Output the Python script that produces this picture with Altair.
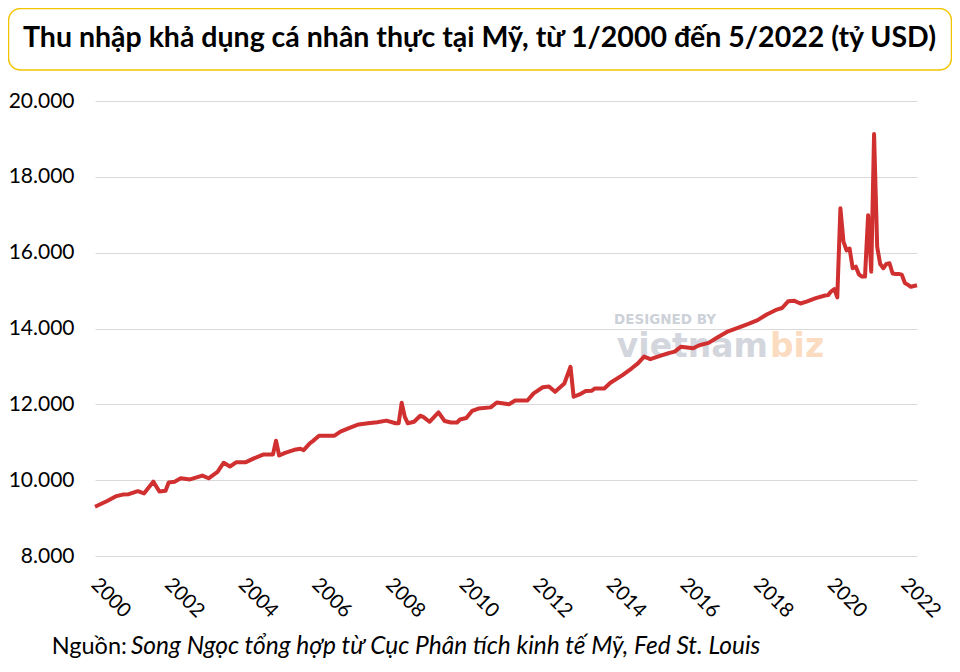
import altair as alt
import pandas as pd

# ---- data (billion USD) ----
months = [
    "2000-01", "2000-05", "2000-08", "2000-10", "2000-12", "2001-03", "2001-05", "2001-08",
    "2001-10", "2001-12", "2002-01", "2002-03", "2002-05", "2002-08", "2002-12", "2003-02",
    "2003-05", "2003-07", "2003-09", "2003-11", "2004-02", "2004-05", "2004-08", "2004-11",
    "2004-12", "2005-01", "2005-03", "2005-06", "2005-08", "2005-09", "2005-11", "2005-12",
    "2006-02", "2006-07", "2006-09", "2006-12", "2007-03", "2007-06", "2007-09", "2007-12",
    "2008-03", "2008-04", "2008-05", "2008-06", "2008-07", "2008-09", "2008-11", "2008-12",
    "2009-02", "2009-05", "2009-07", "2009-09", "2009-11", "2009-12", "2010-02", "2010-04",
    "2010-06", "2010-10", "2010-12", "2011-04", "2011-06", "2011-10", "2011-12", "2012-03",
    "2012-05", "2012-07", "2012-10", "2012-12", "2013-01", "2013-03", "2013-05", "2013-07",
    "2013-08", "2013-11", "2014-01", "2014-05", "2014-08", "2014-10", "2014-12", "2015-02",
    "2015-05", "2015-08", "2015-10", "2015-12", "2016-04", "2016-06", "2016-09", "2016-12",
    "2017-03", "2017-07", "2017-10", "2018-01", "2018-04", "2018-07", "2018-09", "2018-11",
    "2019-01", "2019-03", "2019-05", "2019-08", "2019-11", "2019-12", "2020-01", "2020-02",
    "2020-03", "2020-04", "2020-05", "2020-06", "2020-07", "2020-08", "2020-09", "2020-10",
    "2020-11", "2020-12", "2021-01", "2021-02", "2021-03", "2021-04", "2021-05", "2021-06",
    "2021-07", "2021-08", "2021-09", "2021-10", "2021-11", "2021-12", "2022-01", "2022-02",
    "2022-03", "2022-04", "2022-05",
]
income = [
    9300, 9450, 9580, 9620, 9630, 9710, 9650, 9960,
    9700, 9720, 9940, 9960, 10050, 10020, 10120, 10050,
    10220, 10460, 10360, 10470, 10470, 10580, 10680, 10680,
    11040, 10650, 10720, 10800, 10830, 10790, 10970, 11030,
    11170, 11170, 11280, 11380, 11470, 11500, 11530, 11570,
    11500, 11500, 12040, 11670, 11500, 11540, 11700, 11670,
    11540, 11790, 11560, 11520, 11520, 11600, 11640, 11830,
    11890, 11920, 12050, 12000, 12100, 12100, 12290, 12450,
    12470, 12330, 12550, 12990, 12200, 12260, 12350, 12360,
    12420, 12420, 12570, 12770, 12950, 13080, 13260, 13190,
    13270, 13350, 13390, 13520, 13480, 13560, 13620, 13770,
    13910, 14030, 14120, 14220, 14370, 14490, 14540, 14720,
    14730, 14660, 14710, 14800, 14870, 14880, 14980, 15040,
    14820, 17170, 16300, 16060, 16110, 15590, 15630, 15430,
    15370, 15370, 16990, 15500, 19130, 16150, 15700, 15590,
    15700, 15720, 15450, 15440, 15440, 15420, 15200, 15150,
    15100, 15120, 15140,
]
y_ticks = [8000, 10000, 12000, 14000, 16000, 18000, 20000]

TITLE = "Thu nhập khả dụng cá nhân thực tại Mỹ, từ 1/2000 đến 5/2022 (tỷ USD)"
SOURCE_LABEL = "Nguồn:"
SOURCE_TEXT = "Song Ngọc tổng hợp từ Cục Phân tích kinh tế Mỹ, Fed St. Louis"

df = pd.DataFrame({"date": [m + "-01T00:00:00" for m in months], "value": income})

W, H = 822, 455

line = alt.Chart(df).mark_line(color="#d03030", strokeWidth=4, strokeJoin="round").encode(
    x=alt.X(
        "date:T",
        scale=alt.Scale(domain=[alt.DateTime(year=2000, month=1, date=1),
                                alt.DateTime(year=2022, month=5, date=1)]),
        axis=alt.Axis(
            title=None, format="%Y", tickCount={"interval": "year", "step": 2},
            grid=False, domain=False, ticks=False, labelAngle=45, labelAlign="left",
            labelBaseline="top", labelPadding=18, labelOffset=6, labelFontSize=20,
            labelFlush=False, labelOverlap=False, labelBound=False,
        ),
    ),
    y=alt.Y(
        "value:Q",
        scale=alt.Scale(domain=[8000, 20000], nice=False, zero=False),
        axis=alt.Axis(
            title=None, values=y_ticks, grid=True, gridColor="#d9d9d9", gridWidth=1,
            domain=False, ticks=False, labelFontSize=21, labelPadding=21,
            labelExpr="replace(format(datum.value, ','), ',', '.')",
        ),
    ),
)

one = pd.DataFrame({"t": [TITLE]})

box = alt.Chart(one).mark_rect(
    cornerRadius=12, fill="white", stroke="#f5c400", strokeWidth=1.5
).encode(x=alt.value(-86.5), x2=alt.value(856.5), y=alt.value(-92.5), y2=alt.value(-31))

title = alt.Chart(one).mark_text(
    font="Lato", fontWeight="bold", fontSize=28.5, align="center", baseline="alphabetic", color="black"
).encode(x=alt.value(384.5), y=alt.value(-54.5), text="t:N")

src1 = alt.Chart(pd.DataFrame({"t": [SOURCE_LABEL]})).mark_text(
    font="Lato", fontSize=23.5, align="left", baseline="alphabetic", color="black"
).encode(x=alt.value(-43.3), y=alt.value(553.3), text="t:N")

src2 = alt.Chart(pd.DataFrame({"t": [SOURCE_TEXT]})).mark_text(
    font="Lato", fontSize=24.5, fontStyle="italic", align="left", baseline="alphabetic", color="black"
).encode(x=alt.value(36), y=alt.value(553.3), text="t:N")

wm1 = alt.Chart(pd.DataFrame({"t": ["DESIGNED BY"]})).mark_text(
    font="DejaVu Sans", fontWeight="bold", fontSize=13.5, align="left", baseline="alphabetic",
    color="#cdd1d8"
).encode(x=alt.value(519), y=alt.value(223), text="t:N")

wm2 = alt.Chart(pd.DataFrame({"t": ["vietnam"]})).mark_text(
    font="DejaVu Sans", fontWeight="bold", fontSize=33, align="right", baseline="alphabetic",
    color="#d3d6dd"
).encode(x=alt.value(673), y=alt.value(256), text="t:N")

wm3 = alt.Chart(pd.DataFrame({"t": ["biz"]})).mark_text(
    font="DejaVu Sans", fontWeight="bold", fontSize=33, align="left", baseline="alphabetic",
    color="#fbdcc0"
).encode(x=alt.value(675), y=alt.value(256), text="t:N")

chart = alt.layer(wm1, wm2, wm3, line, box, title, src1, src2).properties(
    width=W, height=H,
    padding={"left": 87, "top": 93, "right": 35, "bottom": 108},
    autosize=alt.AutoSizeParams(type="none"),
    background="white",
).configure_view(stroke=None).configure_axis(
    labelFont="Lato", labelColor="black"
)

chart.save("out.html", embed_options={"renderer": "svg", "actions": False})
